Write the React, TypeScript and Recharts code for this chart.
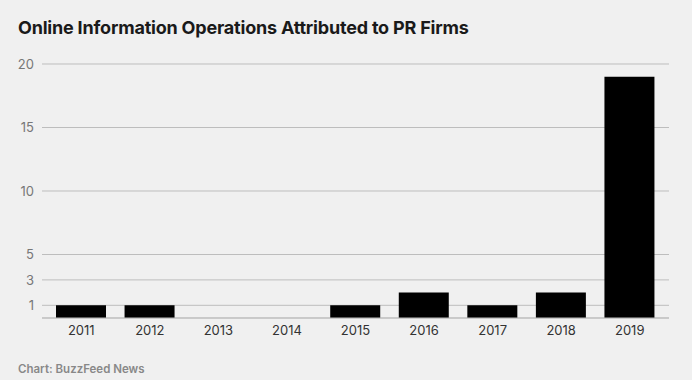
import React from 'react';
import { Bar, BarChart, CartesianGrid, XAxis, YAxis } from 'recharts';

const years = ['2011', '2012', '2013', '2014', '2015', '2016', '2017', '2018', '2019'];
const operations = [1, 1, 0, 0, 1, 2, 1, 2, 19];
const yTicks = [1, 3, 5, 10, 15, 20];

const data = years.map((year, i) => ({ year, count: operations[i] }));

const FONT = 'Inter, "Noto Sans", Arial, sans-serif';

const App: React.FC = () => {
  return (
    <div
      style={{
        position: 'fixed',
        top: 0,
        left: 0,
        width: 692,
        height: 380,
        background: '#f0f0f0',
        fontFamily: FONT,
        overflow: 'hidden',
      }}
    >
      <div
        style={{
          position: 'absolute',
          left: 18,
          top: 17,
          fontSize: 18,
          fontWeight: 700,
          color: '#1a1a1a',
          letterSpacing: -0.2,
        }}
      >
        Online Information Operations Attributed to PR Firms
      </div>
      <div style={{ position: 'absolute', top: 0, left: 0 }}>
        <BarChart
          width={692}
          height={380}
          data={data}
          margin={{ top: 64, right: 23, bottom: 32, left: 0 }}
          barSize={50}
        >
          <CartesianGrid horizontal vertical={false} stroke="#bdbdbd" />
          <XAxis
            dataKey="year"
            tickLine={false}
            axisLine={{ stroke: '#bdbdbd' }}
            padding={{ left: 5, right: 5 }}
            tick={{ fill: '#333', fontSize: 13, fontFamily: FONT }}
          />
          <YAxis
            width={42}
            domain={[0, 20]}
            ticks={yTicks}
            interval={0}
            tickLine={false}
            axisLine={false}
            tick={{ fill: '#777', fontSize: 13, fontFamily: FONT }}
          />
          <Bar dataKey="count" fill="#000" isAnimationActive={false} />
        </BarChart>
      </div>
      <div
        style={{
          position: 'absolute',
          left: 18,
          top: 362,
          fontSize: 11.5,
          fontWeight: 600,
          color: '#888',
        }}
      >
        Chart: BuzzFeed News
      </div>
    </div>
  );
};

export default App;
